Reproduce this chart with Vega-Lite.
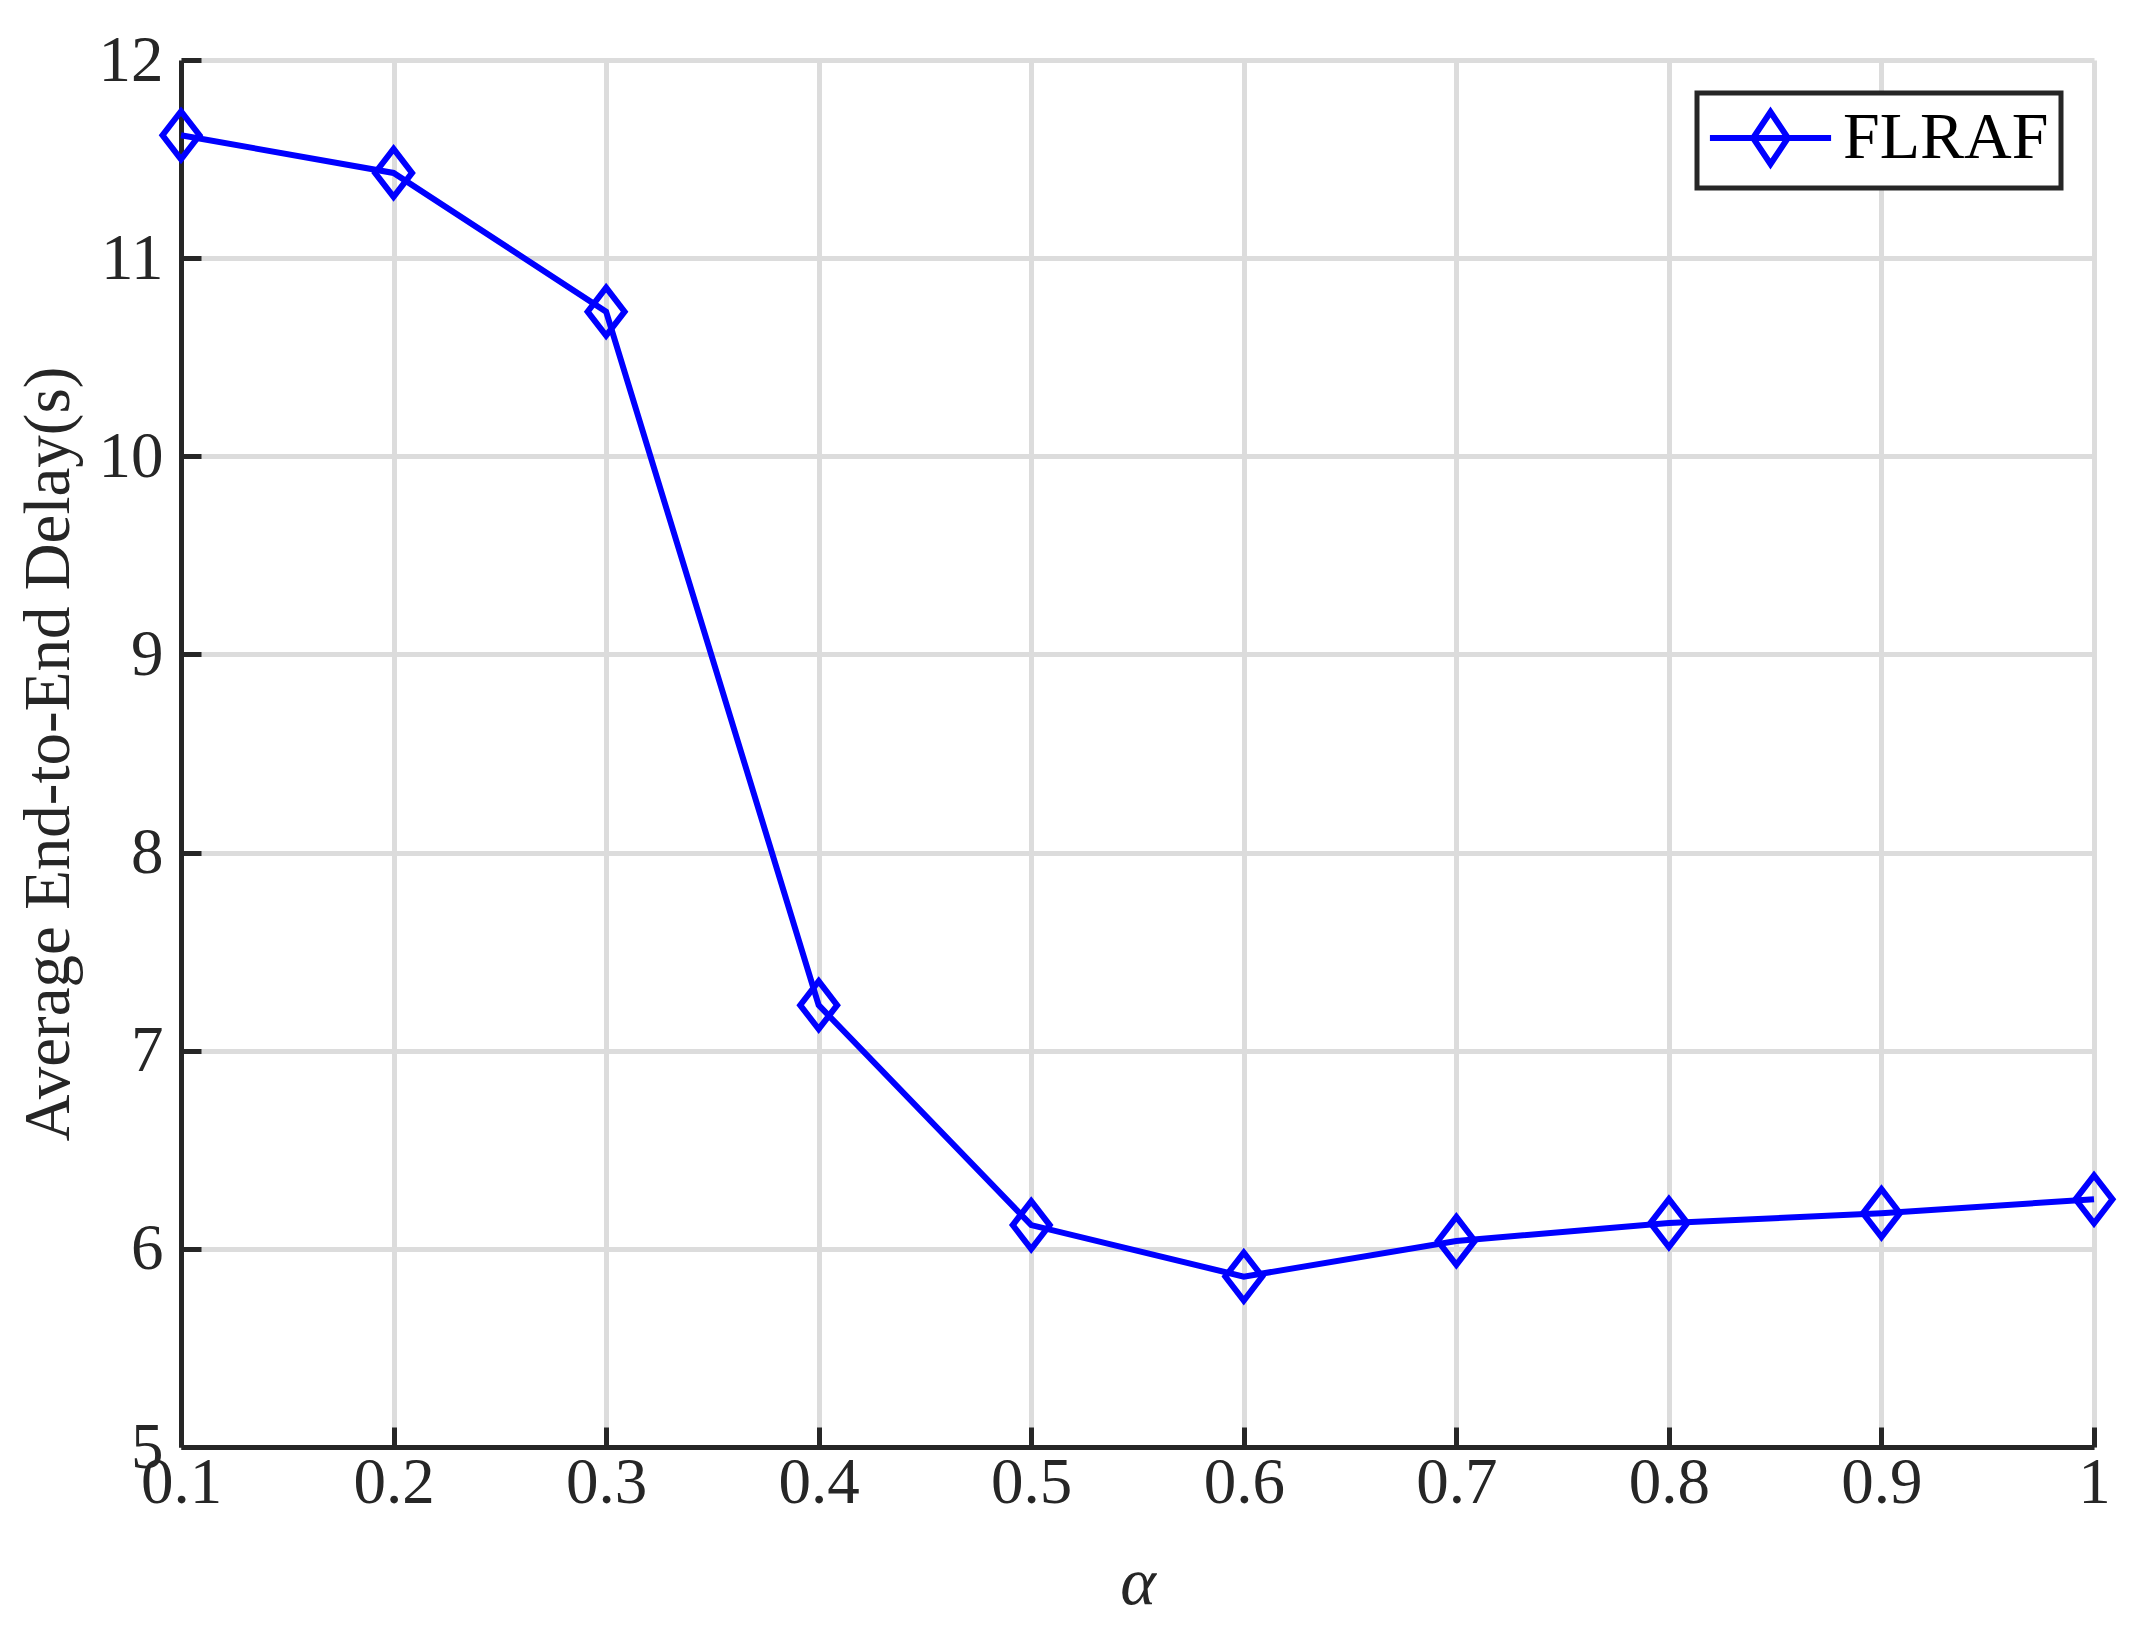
{
  "$schema": "https://vega.github.io/schema/vega-lite/v6.json",
  "width": 1913,
  "height": 1387,
  "autosize": {"type": "none"},
  "padding": {"left": 181, "top": 60, "right": 45, "bottom": 194},
  "background": "white",
  "config": {
    "view": {"stroke": null},
    "font": "Liberation Serif",
    "axis": {
      "labelFont": "Liberation Serif",
      "titleFont": "Liberation Serif",
      "labelColor": "#262626",
      "titleColor": "#262626",
      "labelFontSize": 65,
      "titleFontSize": 65,
      "titleFontWeight": "normal",
      "domainColor": "#262626",
      "domainWidth": 5,
      "tickColor": "#262626",
      "tickWidth": 5,
      "tickSize": -20,
      "gridColor": "#dcdcdc",
      "gridWidth": 5,
      "gridOpacity": 1
    }
  },
  "data": {
    "values": [
      {"alpha": 0.1, "delay": 11.62, "series": "FLRAF"},
      {"alpha": 0.2, "delay": 11.43, "series": "FLRAF"},
      {"alpha": 0.3, "delay": 10.73, "series": "FLRAF"},
      {"alpha": 0.4, "delay": 7.23, "series": "FLRAF"},
      {"alpha": 0.5, "delay": 6.12, "series": "FLRAF"},
      {"alpha": 0.6, "delay": 5.86, "series": "FLRAF"},
      {"alpha": 0.7, "delay": 6.04, "series": "FLRAF"},
      {"alpha": 0.8, "delay": 6.13, "series": "FLRAF"},
      {"alpha": 0.9, "delay": 6.18, "series": "FLRAF"},
      {"alpha": 1.0, "delay": 6.25, "series": "FLRAF"}
    ]
  },
  "encoding": {
    "x": {
      "field": "alpha",
      "type": "quantitative",
      "scale": {"domain": [0.1, 1], "nice": false, "zero": false},
      "axis": {
        "values": [0.1, 0.2, 0.3, 0.4, 0.5, 0.6, 0.7, 0.8, 0.9, 1],
        "format": ".1~f",
        "title": "α",
        "titleFontStyle": "italic",
        "titleFontSize": 68,
        "labelPadding": 24,
        "titlePadding": 34,
        "labelFlush": false
      }
    },
    "y": {
      "field": "delay",
      "type": "quantitative",
      "scale": {"domain": [5, 12], "nice": false, "zero": false},
      "axis": {
        "values": [5, 6, 7, 8, 9, 10, 11, 12],
        "title": "Average End-to-End Delay(s)",
        "labelPadding": 38,
        "titlePadding": 16,
        "labelFlush": false
      }
    },
    "color": {
      "field": "series",
      "type": "nominal",
      "scale": {"range": ["#0000ff"]},
      "legend": {
        "title": null,
        "orient": "top-right",
        "offset": 33,
        "padding": 12,
        "fillColor": "white",
        "strokeColor": "#262626",
        "labelFont": "Liberation Serif",
        "labelFontSize": 66,
        "labelColor": "#000000",
        "labelLimit": 0,
        "symbolType": "M-2.33,0L2.33,0M0,-1L0.67,0L0,1L-0.67,0Z",
        "symbolSize": 2704,
        "symbolStrokeWidth": 6,
        "symbolFillColor": "transparent",
        "symbolOffset": 28.5,
        "labelOffset": 39.5,
        "encode": {
          "legend": {"update": {"strokeWidth": {"value": 5}}},
          "symbols": {"update": {"fill": {"value": "transparent"}, "stroke": {"value": "#0000ff"}, "strokeWidth": {"value": 6}}}
        }
      }
    }
  },
  "layer": [
    {
      "mark": {"type": "line", "strokeWidth": 6, "clip": false}
    },
    {
      "mark": {
        "type": "point",
        "shape": "M0,-1L0.77,0L0,1L-0.77,0Z",
        "size": 2304,
        "filled": false,
        "strokeWidth": 6,
        "opacity": 1,
        "clip": false
      }
    }
  ]
}
